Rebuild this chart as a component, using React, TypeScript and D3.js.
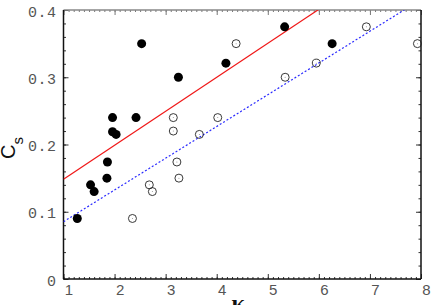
import React, { useEffect, useRef } from 'react';
import * as d3 from 'd3';

// filled points (black)
const filledK = [1.27, 1.53, 1.6, 1.86, 1.85, 1.96, 1.96, 2.03, 2.42, 2.53, 3.25, 4.18, 5.33, 6.26];
const filledC = [0.09, 0.14, 0.13, 0.174, 0.15, 0.219, 0.24, 0.215, 0.24, 0.35, 0.30, 0.321, 0.375, 0.35];
// open points
const openK = [2.35, 2.68, 2.74, 3.15, 3.15, 3.22, 3.26, 3.66, 4.02, 4.38, 5.34, 5.95, 6.93, 7.93];
const openC = [0.09, 0.14, 0.13, 0.24, 0.22, 0.174, 0.15, 0.215, 0.24, 0.35, 0.30, 0.321, 0.375, 0.35];
// fitted lines: [intercept, slope]
const redFit = [0.098, 0.0505];
const blueFit = [0.038, 0.0472];

const xTicks = [1, 2, 3, 4, 5, 6, 7, 8];
const yTicks = [0, 0.1, 0.2, 0.3, 0.4];

const App = () => {
  const ref = useRef<SVGSVGElement>(null);

  useEffect(() => {
    const W = 436, H = 305;
    const m = { top: 10, right: 15, bottom: 26, left: 63.5 };
    const svg = d3.select(ref.current);
    svg.selectAll('*').remove();

    const x = d3.scaleLinear().domain([1, 8]).range([m.left, W - m.right]);
    const y = d3.scaleLinear().domain([0, 0.4]).range([H - m.bottom, m.top]);
    const x0 = x.range()[0], x1 = x.range()[1];
    const y0 = y.range()[0], y1 = y.range()[1];

    svg.append('defs').append('clipPath').attr('id', 'plotclip')
      .append('rect').attr('x', x0).attr('y', y1).attr('width', x1 - x0).attr('height', y0 - y1);

    const minorX = d3.range(10, 81).map(d => d / 10);
    const minorY = d3.range(0, 21).map(d => d / 50);

    // minor ticks, all four sides
    const addAxis = (axis, tx, ty, color) => {
      const g = svg.append('g').attr('transform', `translate(${tx},${ty})`).call(axis);
      g.select('.domain').remove();
      g.selectAll('line').attr('stroke', color).attr('stroke-width', 1);
      return g;
    };
    addAxis(d3.axisBottom(x).tickValues(minorX).tickSize(-2).tickFormat(() => ''), 0, y0, '#333');
    addAxis(d3.axisTop(x).tickValues(minorX).tickSize(-2).tickFormat(() => ''), 0, y1, '#777');
    addAxis(d3.axisLeft(y).tickValues(minorY).tickSize(-2.5).tickFormat(() => ''), x0, 0, '#333');
    addAxis(d3.axisRight(y).tickValues(minorY).tickSize(-2.5).tickFormat(() => ''), x1, 0, '#333');

    // major ticks + labels
    const bx = addAxis(d3.axisBottom(x).tickValues(xTicks).tickSize(-5).tickPadding(5).tickFormat(d3.format('d')), 0, y0, '#333');
    bx.selectAll('text')
      .attr('dx', 5)
      .attr('font-family', 'Liberation Sans, sans-serif')
      .attr('font-size', 15)
      .attr('fill', '#555');
    addAxis(d3.axisTop(x).tickValues(xTicks).tickSize(-5).tickFormat(() => ''), 0, y1, '#777');

    const ly = addAxis(d3.axisLeft(y).tickValues(yTicks).tickSize(-5)
      .tickPadding(7).tickFormat(d => (d === 0 ? '0' : d3.format('.1f')(d))), x0, 0, '#333');
    ly.selectAll('text')
      .attr('dy', '0.4em')
      .attr('font-family', 'Liberation Mono, monospace')
      .attr('font-size', 15)
      .attr('letter-spacing', 0.5)
      .attr('fill', '#555');
    addAxis(d3.axisRight(y).tickValues(yTicks).tickSize(-5).tickFormat(() => ''), x1, 0, '#333');

    // frame
    svg.append('line').attr('x1', x0).attr('x2', x1).attr('y1', y1).attr('y2', y1).attr('stroke', '#888').attr('stroke-width', 1.5);
    svg.append('line').attr('x1', x0).attr('x2', x1).attr('y1', y0).attr('y2', y0).attr('stroke', '#111').attr('stroke-width', 1.5);
    svg.append('line').attr('x1', x0).attr('x2', x0).attr('y1', y1).attr('y2', y0).attr('stroke', '#111').attr('stroke-width', 1.5);
    svg.append('line').attr('x1', x1).attr('x2', x1).attr('y1', y1).attr('y2', y0).attr('stroke', '#111').attr('stroke-width', 1.5);

    // fit lines
    const plot = svg.append('g').attr('clip-path', 'url(#plotclip)');
    const line = d3.line<number>().x(k => x(k));
    const fitLine = (fit, color, dash) => {
      plot.append('path')
        .datum([1, 8])
        .attr('d', line.y(k => y(fit[0] + fit[1] * k)))
        .attr('fill', 'none')
        .attr('stroke', color)
        .attr('stroke-width', 1.2)
        .attr('stroke-dasharray', dash);
    };
    fitLine(redFit, '#f01818', null);
    fitLine(blueFit, '#2a2aff', '2,2');

    // points
    const filled = filledK.map((k, i) => ({ k, c: filledC[i] }));
    const open = openK.map((k, i) => ({ k, c: openC[i] }));
    svg.append('g').selectAll('circle').data(filled).enter().append('circle')
      .attr('cx', d => x(d.k)).attr('cy', d => y(d.c)).attr('r', 4.5).attr('fill', '#000');
    const og = svg.append('g').selectAll('g').data(open).enter().append('g');
    og.append('circle')
      .attr('cx', d => x(d.k)).attr('cy', d => y(d.c)).attr('r', 4)
      .attr('fill', 'none').attr('stroke', '#222').attr('stroke-width', 0.9);
    og.append('circle')
      .attr('cx', d => x(d.k)).attr('cy', d => y(d.c)).attr('r', 0.5).attr('fill', '#888');

    // axis titles
    const yt = svg.append('text')
      .attr('transform', 'translate(15,159) rotate(-90)')
      .attr('font-family', 'Liberation Sans, sans-serif')
      .attr('fill', '#111');
    yt.append('tspan').attr('font-size', 20).text('C');
    yt.append('tspan').attr('font-size', 15).attr('dy', 8).text('s');

    svg.append('text')
      .attr('x', (x0 + x1) / 2 - 4)
      .attr('y', H + 6)
      .attr('text-anchor', 'middle')
      .attr('font-family', 'Liberation Serif, serif')
      .attr('font-weight', 'bold')
      .attr('font-size', 24)
      .attr('fill', '#111')
      .text('κ');
  }, []);

  return (
    <svg ref={ref} width={436} height={305}
      style={{ position: 'absolute', left: 0, top: 0, background: '#fff' }} />
  );
};

export default App;
